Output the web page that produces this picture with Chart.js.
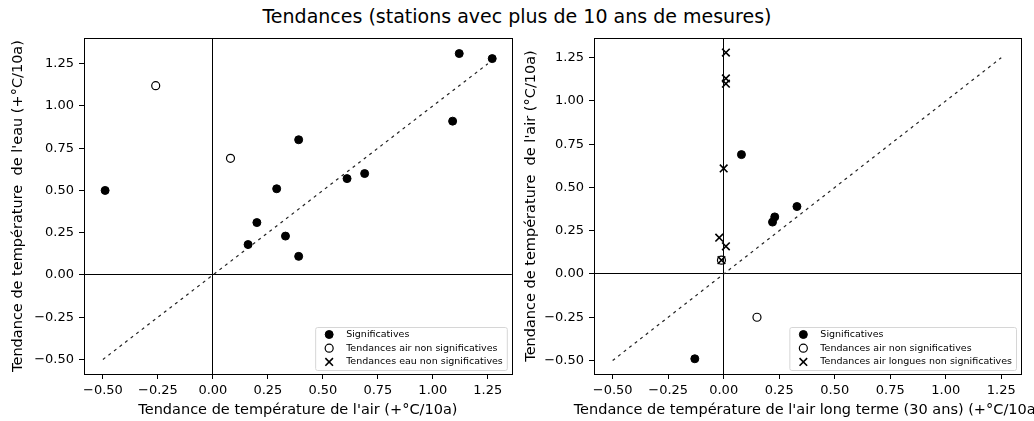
<!DOCTYPE html>
<html>
<head>
<meta charset="utf-8">
<script src="https://cdn.jsdelivr.net/npm/chart.js@4"></script>
<style>
  body { margin: 0; background: #fff; width: 1034px; height: 421px; overflow: hidden; position: relative; font-family: "DejaVu Sans", sans-serif; }
  #title { position: absolute; top: 5px; left: 0; width: 1034px; text-align: center; font-size: 19px; color: #000; }
  .box { position: absolute; top: 0; width: 517px; height: 421px; }
</style>
</head>
<body>
<div id="title">Tendances (stations avec plus de 10 ans de mesures)</div>
<div class="box" style="left:0"><canvas id="chartEau"></canvas></div>
<div class="box" style="left:517px"><canvas id="chartAir"></canvas></div>
<script>
// tick labels (both axes, both plots)
const tickValues = [-0.5, -0.25, 0, 0.25, 0.5, 0.75, 1, 1.25]

// left plot : eau vs air
const eauSigX = [-0.49, 0.39, 0.29, 0.20, 0.16, 0.33, 0.39, 0.61, 0.69, 1.09, 1.12, 1.27]
const eauSigY = [0.50, 0.80, 0.51, 0.31, 0.18, 0.23, 0.11, 0.57, 0.60, 0.91, 1.31, 1.28]
const eauAirNsX = [-0.26, 0.08]
const eauAirNsY = [1.12, 0.69]
const eauEauNsX = []
const eauEauNsY = []

// right plot : air vs air long terme
const airSigX = [-0.13, 0.08, 0.33, 0.23, 0.22]
const airSigY = [-0.49, 0.69, 0.39, 0.33, 0.30]
const airAirNsX = [0.15, -0.01]
const airAirNsY = [-0.25, 0.08]
const airLongNsX = [0.01, 0.01, 0.01, 0.00, -0.02, 0.01, -0.01]
const airLongNsY = [1.28, 1.13, 1.10, 0.61, 0.21, 0.16, 0.08]

// 1:1 line
const diagX = [-0.5, 1.25]
const diagY = [-0.5, 1.25]

const FONT = '"DejaVu Sans", sans-serif'

function pts(xs, ys) {
  return xs.map((x, i) => ({ x: x, y: ys[i] }))
}

function fmt(v) {
  let s = Math.abs(v).toFixed(2)
  return v < 0 ? '\u2212' + s : s
}

// frame around the plot area
const frame = {
  id: 'frame',
  afterDatasetsDraw(chart) {
    const a = chart.chartArea
    const ctx = chart.ctx
    ctx.save()
    ctx.strokeStyle = '#000'
    ctx.lineWidth = 1
    ctx.strokeRect(Math.round(a.left) + 0.5, Math.round(a.top) + 0.5, Math.round(a.right - a.left), Math.round(a.bottom - a.top))
    ctx.restore()
  }
}

// x axis title drawn by hand so it is not squeezed (the right one runs off the page)
const xTitle = {
  id: 'xTitle',
  afterDraw(chart, args, opts) {
    const ctx = chart.ctx
    const a = chart.chartArea
    ctx.save()
    ctx.font = '14.5px ' + FONT
    ctx.fillStyle = '#000'
    ctx.textAlign = 'center'
    ctx.textBaseline = 'middle'
    ctx.fillText(opts.text, (a.left + a.right) / 2, chart.height - 10.5)
    ctx.restore()
  }
}

// matplotlib-like legend, lower right inside the axes
function drawMarker(ctx, kind, x, y) {
  ctx.strokeStyle = '#000'
  ctx.fillStyle = '#000'
  if (kind === 'filled') {
    ctx.lineWidth = 1
    ctx.beginPath(); ctx.arc(x, y, 4, 0, Math.PI * 2); ctx.fill(); ctx.stroke()
  } else if (kind === 'open') {
    ctx.lineWidth = 1.2
    ctx.beginPath(); ctx.arc(x, y, 4, 0, Math.PI * 2); ctx.stroke()
  } else {
    ctx.lineWidth = 1.6
    let r = 3.8
    ctx.beginPath()
    ctx.moveTo(x - r, y - r); ctx.lineTo(x + r, y + r)
    ctx.moveTo(x - r, y + r); ctx.lineTo(x + r, y - r)
    ctx.stroke()
  }
}

const innerLegend = {
  id: 'innerLegend',
  afterDraw(chart) {
    const ctx = chart.ctx
    const a = chart.chartArea
    const items = chart.data.datasets.filter(d => d.marker)
    ctx.save()
    ctx.font = '9.5px ' + FONT
    let textW = Math.max(...items.map(d => ctx.measureText(d.label).width))
    let w = textW + 35
    let h = 43
    let left = a.right - 5 - w
    let top = a.bottom - 4 - h
    ctx.beginPath()
    ctx.roundRect(left + 0.5, top + 0.5, w, h, 2)
    ctx.fillStyle = 'rgba(255,255,255,0.8)'
    ctx.fill()
    ctx.strokeStyle = '#d6d6d6'
    ctx.lineWidth = 1
    ctx.stroke()
    items.forEach((d, i) => {
      let y = top + 7.5 + i * 13.7
      drawMarker(ctx, d.marker, left + 14, y)
      ctx.fillStyle = '#000'
      ctx.textBaseline = 'middle'
      ctx.textAlign = 'left'
      ctx.fillText(d.label, left + 31, y)
    })
    ctx.restore()
  }
}

function axis(min, max, title, size, isX, titlePad) {
  return {
    type: 'linear',
    min: min,
    max: max,
    afterBuildTicks: s => { s.ticks = tickValues.map(v => ({ value: v })) },
    afterFit: s => { if (isX) s.height = size; else s.width = size },
    border: { display: false },
    grid: {
      drawOnChartArea: true,
      color: c => (c.tick && c.tick.value === 0) ? '#000' : 'rgba(0,0,0,0)',
      lineWidth: 1,
      tickColor: '#000',
      tickLength: 5
    },
    ticks: {
      color: '#000',
      padding: isX ? 4 : 5,
      font: { family: FONT, size: 13 },
      callback: v => fmt(v),
      autoSkip: false,
      maxRotation: 0
    },
    title: {
      display: !isX,
      text: title,
      color: '#000',
      font: { family: FONT, size: 14.5 },
      padding: titlePad
    }
  }
}

function scatterSet(label, data, kind) {
  let ds = { type: 'scatter', label: label, data: data, marker: kind, borderColor: '#000', order: 1 }
  if (kind === 'filled') {
    Object.assign(ds, { pointStyle: 'circle', pointRadius: 4, backgroundColor: '#000', borderWidth: 1 })
  } else if (kind === 'open') {
    Object.assign(ds, { pointStyle: 'circle', pointRadius: 4, backgroundColor: 'rgba(0,0,0,0)', borderWidth: 1.2 })
  } else {
    Object.assign(ds, { pointStyle: 'crossRot', pointRadius: 5.4, backgroundColor: '#000', borderWidth: 1.6 })
  }
  return ds
}

function diagSet() {
  return {
    type: 'line', data: pts(diagX, diagY), borderColor: '#222', borderWidth: 1.2,
    borderDash: [3, 4], pointRadius: 0, fill: false, order: 10
  }
}

function makeChart(id, datasets, xr, yr, xLabel, yLabel, yWidth, padRight, yTitlePad) {
  return new Chart(document.getElementById(id), {
    data: { datasets: datasets },
    options: {
      responsive: true,
      maintainAspectRatio: false,
      animation: false,
      events: [],
      layout: { padding: { top: 38, right: padRight, left: 0, bottom: 0 } },
      plugins: { legend: { display: false }, tooltip: { enabled: false }, xTitle: { text: xLabel } },
      scales: {
        x: axis(xr[0], xr[1], xLabel, 47, true, { top: 0, bottom: 2 }),
        y: axis(yr[0], yr[1], yLabel, yWidth, false, { top: yTitlePad, bottom: 0 })
      }
    },
    plugins: [frame, innerLegend, xTitle]
  })
}

makeChart('chartEau', [
  scatterSet('Significatives', pts(eauSigX, eauSigY), 'filled'),
  scatterSet('Tendances air non significatives', pts(eauAirNsX, eauAirNsY), 'open'),
  scatterSet('Tendances eau non significatives', pts(eauEauNsX, eauEauNsY), 'x'),
  diagSet()
], [-0.586, 1.359], [-0.586, 1.402],
  "Tendance de température de l'air (+°C/10a)",
  "Tendance de température  de l'eau (+°C/10a)", 84, 5, 9.3)

makeChart('chartAir', [
  scatterSet('Significatives', pts(airSigX, airSigY), 'filled'),
  scatterSet('Tendances air non significatives', pts(airAirNsX, airAirNsY), 'open'),
  scatterSet('Tendances air longues non significatives', pts(airLongNsX, airLongNsY), 'x'),
  diagSet()
], [-0.584, 1.339], [-0.578, 1.364],
  "Tendance de température de l'air long terme (30 ans) (+°C/10a)",
  "Tendance de température  de l'air (°C/10a)", 77, 13, 6)
</script>
</body>
</html>
